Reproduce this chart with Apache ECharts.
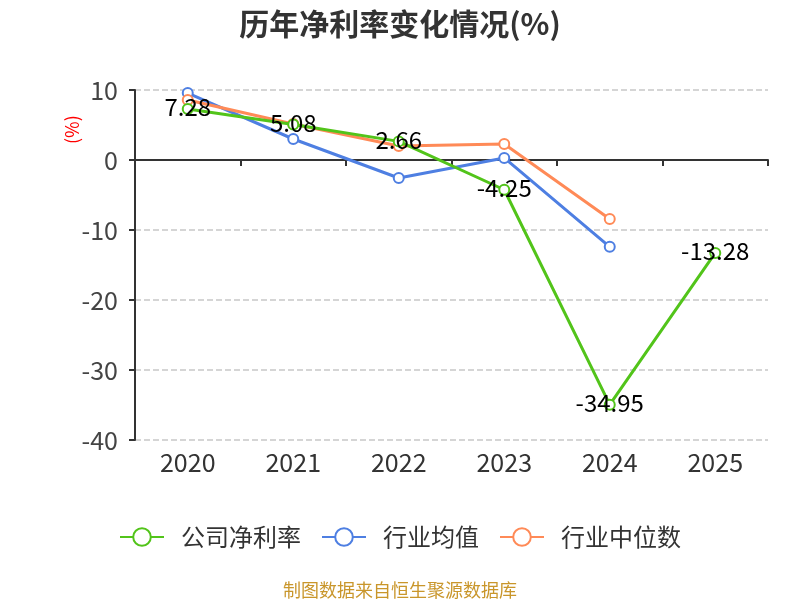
<!DOCTYPE html>
<html>
<head>
<meta charset="utf-8">
<title>历年净利率变化情况</title>
<script src="https://cdn.jsdelivr.net/npm/echarts@6/dist/echarts.min.js"></script>
</head>
<body style="margin:0">
<div id="main" style="width: 800px; height: 600px;"></div>
<script type="text/javascript">
var years = ['2020', '2021', '2022', '2023', '2024', '2025'];
var companyRate = [7.28, 5.08, 2.66, -4.25, -34.95, -13.28];
var industryAvg = [9.57, 3.0, -2.57, 0.29, -12.4, null];
var industryMedian = [8.57, 5.14, 2.0, 2.29, -8.43, null];
var yTicks = { min: -40, max: 10, interval: 10 };

var font = 'Noto Sans CJK SC';
var myChart = echarts.init(document.getElementById('main'));

var option = {
	textStyle: { fontFamily: font },
	title: [{
		text: '历年净利率变化情况(%)',
		left: 'center',
		top: 4,
		textStyle: { fontSize: 30, fontWeight: 'bold', color: '#333', fontFamily: font }
	}, {
		text: '制图数据来自恒生聚源数据库',
		left: 'center',
		top: 576,
		textStyle: { fontSize: 18, fontWeight: 'normal', color: '#c9962b', fontFamily: font }
	}],
	legend: {
		bottom: 46,
		itemWidth: 44,
		itemHeight: 22,
		itemGap: 20,
		textStyle: { fontSize: 24, color: '#333', fontFamily: font, padding: [0, 0, 0, 12] },
		data: ['公司净利率', '行业均值', '行业中位数']
	},
	grid: { left: 135, right: 32, top: 90, bottom: 160 },
	graphic: [{
		type: 'text',
		x: 63,
		y: 144,
		rotation: Math.PI / 2,
		style: { text: '(%)', fill: '#ff0000', fontSize: 18, fontFamily: font }
	}],
	xAxis: [{
		type: 'category',
		data: years,
		axisLine: { onZero: true, lineStyle: { color: '#333', width: 2 } },
		axisTick: { show: true, length: 6, lineStyle: { color: '#333', width: 2 } },
		axisLabel: { show: false }
	}, {
		type: 'category',
		data: years,
		position: 'bottom',
		axisLine: { show: false, onZero: false },
		axisTick: { show: false },
		axisLabel: { fontSize: 25, color: '#333', margin: 10 }
	}],
	yAxis: {
		type: 'value',
		min: yTicks.min,
		max: yTicks.max,
		interval: yTicks.interval,
		axisLine: { show: true, lineStyle: { color: '#333', width: 2 } },
		axisTick: { show: true, length: 6, lineStyle: { color: '#333', width: 2 } },
		axisLabel: { fontSize: 25, color: '#444', margin: 17 },
		splitLine: { lineStyle: { type: 'dashed', color: '#c8c8c8', width: 1.5 } }
	},
	series: [{
		name: '公司净利率',
		type: 'line',
		data: companyRate,
		color: '#52c41a',
		symbol: 'emptyCircle',
		symbolSize: 10,
		lineStyle: { width: 3 },
		label: {
			show: true,
			position: 'inside',
			offset: [0, -2],
			fontSize: 24,
			color: '#000'
		},
		z: 3
	}, {
		name: '行业均值',
		type: 'line',
		data: industryAvg,
		color: '#4e7fe2',
		symbol: 'emptyCircle',
		symbolSize: 10,
		lineStyle: { width: 3 },
		z: 2
	}, {
		name: '行业中位数',
		type: 'line',
		data: industryMedian,
		color: '#ff8a57',
		symbol: 'emptyCircle',
		symbolSize: 10,
		lineStyle: { width: 3 },
		z: 2
	}]
};

myChart.setOption(option);
</script>
</body>
</html>
